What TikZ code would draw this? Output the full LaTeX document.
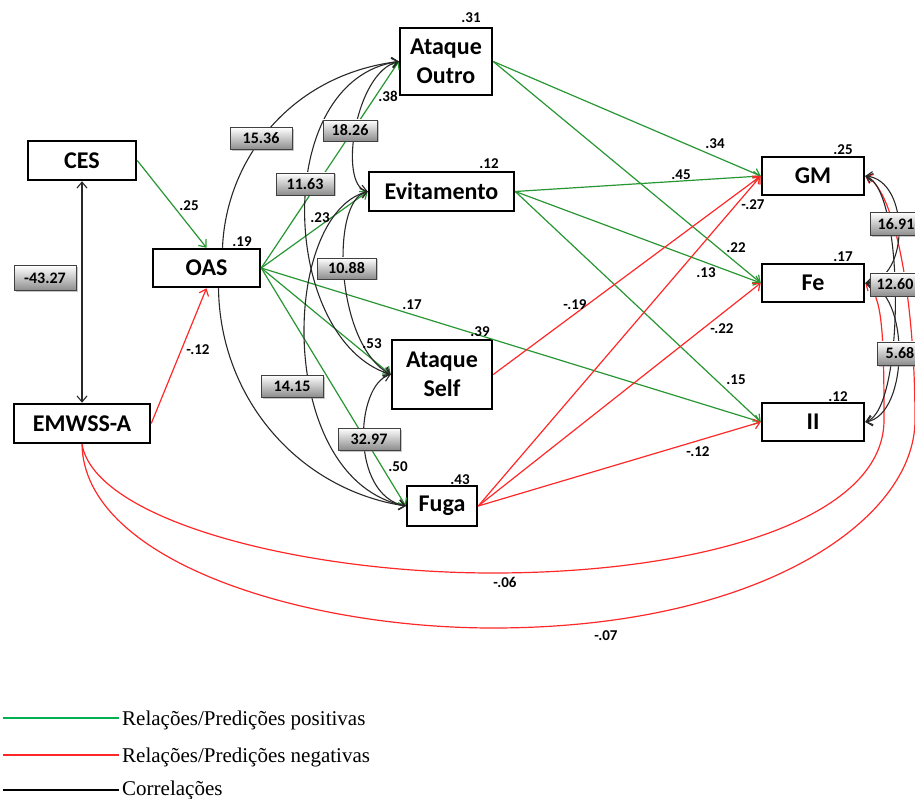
\documentclass[tikz,border=0pt]{standalone}
\usepackage{fontspec}
\newfontfamily\calib{Carlito}
\newfontfamily\tnr{Liberation Serif}
\usetikzlibrary{arrows.meta,shadows}
\definecolor{pgreen}{RGB}{40,150,50}
\definecolor{nred}{RGB}{255,40,40}
\definecolor{corr}{RGB}{40,40,40}
\definecolor{lgreen}{RGB}{0,176,80}
\begin{document}
\begin{tikzpicture}[x=1pt,y=-1pt,
  varbox/.style={draw, fill=white, line width=2.5pt, font=\calib\bfseries\fontsize{24}{29}\selectfont, align=center, inner sep=0pt},
  coef/.style={font=\calib\bfseries\fontsize{15}{16}\selectfont, inner sep=0pt},
  gbox/.style={draw=black!75, line width=0.9pt, top color=white, bottom color=black!45, font=\calib\bfseries\fontsize{16}{18}\selectfont, inner sep=0pt, minimum height=22pt, drop shadow={shadow xshift=1.5pt, shadow yshift=-1.5pt, opacity=0.45}},
  posarr/.style={pgreen, line width=1.2pt, -{Straight Barb[length=6pt,width=10pt]}},
  negarr/.style={nred, line width=1.2pt, -{Straight Barb[length=6pt,width=10pt]}},
  corarr/.style={corr, line width=1.1pt, {Straight Barb[length=6pt,width=10pt]}-{Straight Barb[length=6pt,width=10pt]}},
  corone/.style={corr, line width=1.1pt, -{Straight Barb[length=6pt,width=10pt]}},
  legline/.style={line width=2pt},
  legtext/.style={anchor=base west, font=\tnr\fontsize{21}{23}\selectfont, inner sep=0pt}
]
\path[use as bounding box] (0,0) rectangle (915,799);
\clip (0,0) rectangle (915,799);

% variables
\node[varbox, minimum width=108pt, minimum height=39pt] (CES) at (82,160.5) {CES};
\node[varbox, minimum width=107pt, minimum height=38pt] (OAS) at (206.5,268) {OAS};
\node[varbox, minimum width=136pt, minimum height=39pt] (EMWSS) at (82,423.5) {EMWSS-A};
\node[varbox, minimum width=92pt, minimum height=67pt] (AO) at (446,61.5) {Ataque\\Outro};
\node[varbox, minimum width=145pt, minimum height=39pt] (EV) at (441.5,191.5) {Evitamento};
\node[varbox, minimum width=100pt, minimum height=69pt] (AS) at (442,374.5) {Ataque\\Self};
\node[varbox, minimum width=70pt, minimum height=40pt] (FU) at (442,506) {Fuga};
\node[varbox, minimum width=102pt, minimum height=38pt] (GM) at (813,176) {GM};
\node[varbox, minimum width=102pt, minimum height=38pt] (FE) at (813,283) {Fe};
\node[varbox, minimum width=102pt, minimum height=38pt] (II) at (813,422) {II};

% positive paths
\draw[posarr] (CES.east) -- (OAS.north);
\draw[posarr] (OAS.east) -- (AO.west);
\draw[posarr] (OAS.east) -- (EV.west);
\draw[posarr] (OAS.east) -- (AS.west);
\draw[posarr] (OAS.east) -- (FU.west);
\draw[posarr] (OAS.east) -- (II.west);
\draw[posarr] (AO.east) -- (GM.west);
\draw[posarr] (AO.east) -- (FE.west);
\draw[posarr] (EV.east) -- (GM.west);
\draw[posarr] (EV.east) -- (FE.west);
\draw[posarr] (EV.east) -- (II.west);

% negative paths
\draw[negarr] (EMWSS.east) -- (OAS.south);
\draw[negarr] (AS.east) -- (GM.west);
\draw[negarr] (FU.east) -- (GM.west);
\draw[negarr] (FU.east) -- (FE.west);
\draw[negarr] (FU.east) -- (II.west);
\draw[negarr] (EMWSS.south) .. controls (95,520) and (300,573) .. (493,573)
  .. controls (700,573) and (884,520) .. (884,420)
  .. controls (884,330) and (882,295) .. (FE.east);
\draw[negarr] (EMWSS.south) .. controls (84,560) and (300,628) .. (493,628)
  .. controls (760,628) and (915,520) .. (915,420)
  .. controls (915,300) and (895,190) .. (GM.east);

% correlations
\draw[corarr] (CES.south) -- (EMWSS.north);
\draw[corone] ([xshift=16pt]OAS.north) .. controls (226,160) and (290,75) .. (AO.west);
\draw[corarr] (AO.west) .. controls (355,72) and (338,185) .. (EV.west);
\draw[corarr] (AO.west) .. controls (270,80) and (280,340) .. (AS.west);
\draw[corarr] (EV.west) .. controls (280,215) and (275,480) .. (FU.west);
\draw[corarr] (EV.west) .. controls (330,200) and (335,345) .. (AS.west);
\draw[corarr] (AS.west) .. controls (355,385) and (350,495) .. (FU.west);
\draw[corone] ([xshift=12pt]OAS.south) .. controls (220,400) and (300,490) .. (FU.west);
\draw[corarr] (GM.east) .. controls (910,180) and (910,280) .. (FE.east);
\draw[corarr] (GM.east) .. controls (905,190) and (905,410) .. (II.east);
\draw[corarr] (FE.east) .. controls (910,290) and (910,415) .. (II.east);

% covariance boxes
\node[gbox, minimum width=62pt, minimum height=25pt] (b1) at (45,278) {-43.27};
\node[gbox, minimum width=62pt] (b2) at (261,138.5) {15.36};
\node[gbox, minimum width=54pt, minimum height=21pt] (b3) at (350,130.5) {18.26};
\node[gbox, minimum width=58pt] (b4) at (305,184) {11.63};
\node[gbox, minimum width=59pt, minimum height=21pt] (b5) at (346.5,268.5) {10.88};
\node[gbox, minimum width=62pt] (b6) at (292,386) {14.15};
\node[gbox, minimum width=62pt] (b7) at (369,439) {32.97};
\node[gbox, minimum width=52pt, minimum height=23pt] (b8) at (896,224) {16.91};
\node[gbox, minimum width=50pt, minimum height=23pt] (b9) at (895,284.5) {12.60};
\node[gbox, minimum width=46pt, minimum height=23pt] (b10) at (900,353.5) {5.68};

% R-squared
\node[coef] (r1) at (242,242) {.19};
\node[coef] (r2) at (471,18) {.31};
\node[coef] (r3) at (489,164) {.12};
\node[coef] (r4) at (480,332) {.39};
\node[coef] (r5) at (460,480) {.43};
\node[coef] (r6) at (843,150) {.25};
\node[coef] (r7) at (843,257) {.17};
\node[coef] (r8) at (838,397) {.12};

% path coefficients
\node[coef] (c1) at (189,206) {.25};
\node[coef] (c2) at (198,350) {-.12};
\node[coef] (c3) at (388,96) {.38};
\node[coef] (c4) at (320,218) {.23};
\node[coef] (c5) at (412,305) {.17};
\node[coef] (c6) at (372,344) {.53};
\node[coef] (c7) at (398,467) {.50};
\node[coef] (c8) at (715,144) {.34};
\node[coef] (c9) at (681,175) {.45};
\node[coef] (c10) at (753,205) {-.27};
\node[coef] (c11) at (736,248) {.22};
\node[coef] (c12) at (706,273) {.13};
\node[coef] (c13) at (575,305) {-.19};
\node[coef] (c14) at (722,329) {-.22};
\node[coef] (c15) at (736,380) {.15};
\node[coef] (c16) at (698,452) {-.12};
\node[coef] (c17) at (505,582) {-.06};
\node[coef] (c18) at (606,636) {-.07};

% legend
\draw[legline, draw=lgreen] (3,717.5) -- (119,717.5);
\node[legtext] (l1) at (122,725) {Relações/Predições positivas};
\draw[legline, draw=nred] (3,754.5) -- (119,754.5);
\node[legtext] (l2) at (122,762) {Relações/Predições negativas};
\draw[legline, draw=black] (3,790) -- (119,790);
\node[legtext] (l3) at (122,795.5) {Correlações};
\end{tikzpicture}
\end{document}
